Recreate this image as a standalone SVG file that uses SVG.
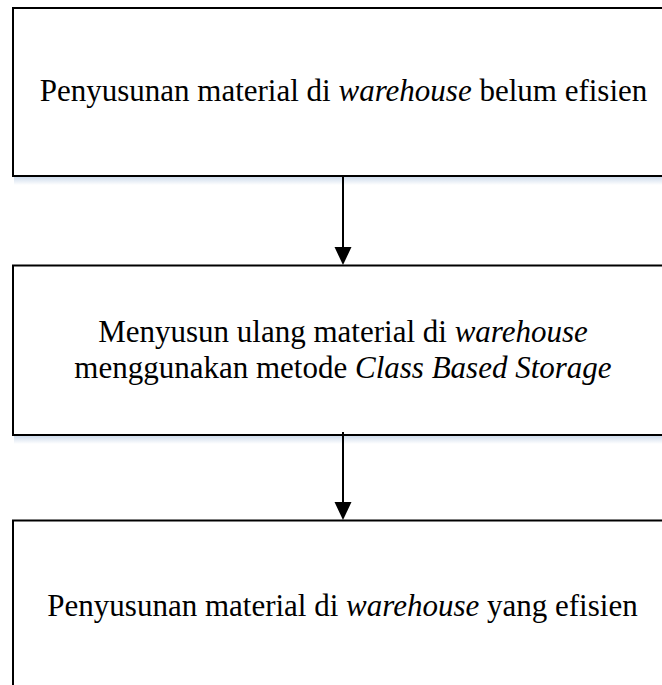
<svg xmlns="http://www.w3.org/2000/svg" width="662" height="685" viewBox="0 0 662 685">
<defs>
<style>
.box{fill:#ffffff;stroke:#000000;stroke-width:2}
.txt{font-family:"Liberation Serif","Times New Roman",serif;font-size:31px;fill:#000000;text-anchor:middle}
.it{font-style:italic}
.conn{stroke:#000000;stroke-width:2;fill:none}
</style>
<linearGradient id="shadow" x1="0" y1="0" x2="0" y2="1">
<stop offset="0" stop-color="#cfdcec"/>
<stop offset="1" stop-color="#ffffff"/>
</linearGradient>
<marker id="arrow" viewBox="0 0 17 18" refX="8.5" refY="18" markerWidth="17" markerHeight="18" markerUnits="userSpaceOnUse" orient="auto-start-reverse">
<path d="M0,0 L17,0 L8.5,18 Z" fill="#000000"/>
</marker>
</defs>
<rect width="662" height="685" fill="#ffffff"/>
<g id="node1">
<rect x="14" y="177" width="660" height="8" fill="url(#shadow)"/>
<rect class="box" x="13" y="8" width="670" height="168"/>
<text class="txt" x="343.5" y="100.5">Penyusunan material di <tspan class="it">warehouse</tspan> belum efisien</text>
</g>
<g id="node2">
<rect x="14" y="436" width="660" height="8" fill="url(#shadow)"/>
<rect class="box" x="13" y="265.5" width="670" height="169.5"/>
<text class="txt" x="343" y="341.5">Menyusun ulang material di <tspan class="it">warehouse</tspan></text>
<text class="txt" x="343" y="377.5">menggunakan metode <tspan class="it">Class Based Storage</tspan></text>
</g>
<g id="node3">
<rect class="box" x="13" y="520.5" width="670" height="200"/>
<text class="txt" x="342.5" y="615.5">Penyusunan material di <tspan class="it">warehouse</tspan> yang efisien</text>
</g>
<g id="connectors">
<line class="conn" x1="343" y1="177" x2="343" y2="248" />
<path d="M334.5,247 L351.5,247 L343,265 Z" fill="#000000"/>
<line class="conn" x1="343" y1="432" x2="343" y2="503" />
<path d="M334.5,502 L351.5,502 L343,520 Z" fill="#000000"/>
</g>
</svg>
